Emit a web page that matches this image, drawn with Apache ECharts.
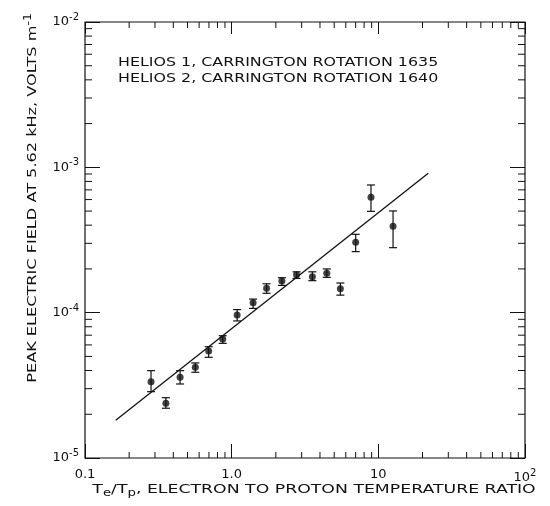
<!DOCTYPE html>
<html>
<head>
    <meta charset="UTF-8">
    <title>Peak electric field vs Te/Tp</title>
    <script src="https://cdn.jsdelivr.net/npm/echarts@6/dist/echarts.min.js"></script>
    <style>
        html, body { margin: 0; padding: 0; background: #fff; }
        #main { width: 550px; height: 506px; }
    </style>
</head>
<body>
    <div id="main"></div>
    <script>
        // Te/Tp ratio for each measurement
        var ratio = [0.282, 0.356, 0.445, 0.565, 0.697, 0.869, 1.09, 1.40, 1.73, 2.20, 2.77, 3.55, 4.45, 5.51, 7.01, 8.91, 12.6];
        // peak electric field (V/m) and error bar ends
        var field = [3.35e-5, 2.38e-5, 3.59e-5, 4.21e-5, 5.45e-5, 6.59e-5, 9.63e-5, 1.17e-4, 1.47e-4, 1.65e-4, 1.82e-4, 1.77e-4, 1.87e-4, 1.46e-4, 3.05e-4, 6.22e-4, 3.93e-4];
        var errLow = [2.86e-5, 2.20e-5, 3.23e-5, 3.89e-5, 4.93e-5, 6.15e-5, 8.77e-5, 1.07e-4, 1.36e-4, 1.54e-4, 1.72e-4, 1.66e-4, 1.75e-4, 1.32e-4, 2.63e-4, 4.98e-4, 2.80e-4];
        var errHigh = [3.99e-5, 2.60e-5, 3.99e-5, 4.51e-5, 5.83e-5, 6.94e-5, 1.05e-4, 1.24e-4, 1.58e-4, 1.74e-4, 1.91e-4, 1.91e-4, 2.00e-4, 1.60e-4, 3.46e-4, 7.56e-4, 5.01e-4];
        // fitted line end points
        var fitX = [0.162, 21.9];
        var fitY = [1.82e-5, 9.10e-4];

        // minor tick values
        var xMinor = [0.2, 0.3, 0.4, 0.5, 0.6, 0.7, 0.8, 0.9, 2, 3, 4, 5, 6, 7, 8, 9, 20, 30, 40, 50, 60, 70, 80, 90];
        var yMinor = [2e-5, 3e-5, 4e-5, 5e-5, 6e-5, 7e-5, 8e-5, 9e-5, 2e-4, 3e-4, 4e-4, 5e-4, 6e-4, 7e-4, 8e-4, 9e-4, 2e-3, 3e-3, 4e-3, 5e-3, 6e-3, 7e-3, 8e-3, 9e-3];
        var xLabels = { '0.1': '0.1', '1': '1.0', '10': '10', '100': '{b|10}{s|2}' };
        var yLabels = { '0.00001': '-5', '0.0001': '-4', '0.001': '-3', '0.01': '-2' };

        var font = 'DejaVu Sans';
        var ink = '#111';

        var myChart = echarts.init(document.getElementById('main'));

        var errData = [];
        for (var i = 0; i < ratio.length; i++) {
            errData.push([ratio[i], errLow[i], errHigh[i]]);
        }
        var points = [];
        for (var i = 0; i < ratio.length; i++) {
            points.push([ratio[i], field[i]]);
        }

        var richLabel = {
            b: { fontSize: 13, fontFamily: font, color: ink },
            s: { fontSize: 10, fontFamily: font, color: ink, padding: [0, 0, 9, 0] }
        };

        function minorX(params, api) {
            var v = api.value(0);
            var b = api.coord([v, 1e-5]);
            var t = api.coord([v, 1e-2]);
            var st = { stroke: ink, lineWidth: 1 };
            return {
                type: 'group',
                children: [
                    { type: 'line', shape: { x1: b[0], y1: b[1], x2: b[0], y2: b[1] - 6 }, style: st },
                    { type: 'line', shape: { x1: t[0], y1: t[1], x2: t[0], y2: t[1] + 6 }, style: st }
                ]
            };
        }

        function minorY(params, api) {
            var v = api.value(1);
            var l = api.coord([0.1, v]);
            var r = api.coord([100, v]);
            var st = { stroke: ink, lineWidth: 1 };
            return {
                type: 'group',
                children: [
                    { type: 'line', shape: { x1: l[0], y1: l[1], x2: l[0] + 7, y2: l[1] }, style: st },
                    { type: 'line', shape: { x1: r[0], y1: r[1], x2: r[0] - 7, y2: r[1] }, style: st }
                ]
            };
        }

        function errorBar(params, api) {
            var x = api.value(0);
            var lo = api.coord([x, api.value(1)]);
            var hi = api.coord([x, api.value(2)]);
            var w = 4;
            var st = { stroke: ink, lineWidth: 1.2 };
            return {
                type: 'group',
                children: [
                    { type: 'line', shape: { x1: lo[0], y1: lo[1], x2: hi[0], y2: hi[1] }, style: st },
                    { type: 'line', shape: { x1: lo[0] - w, y1: lo[1], x2: lo[0] + w, y2: lo[1] }, style: st },
                    { type: 'line', shape: { x1: hi[0] - w, y1: hi[1], x2: hi[0] + w, y2: hi[1] }, style: st }
                ]
            };
        }

        var option = {
            backgroundColor: '#fff',
            animation: false,
            grid: { left: 85, right: 25, top: 22, bottom: 48, show: true, borderColor: ink, borderWidth: 1.2 },
            xAxis: [{
                type: 'log', logBase: 10, min: 0.1, max: 100,
                axisLine: { show: false },
                axisTick: { inside: true, length: 14, lineStyle: { color: ink } },
                splitLine: { show: false },
                axisLabel: {
                    margin: 10, color: ink, fontFamily: font, fontSize: 13,
                    formatter: function (v) { return xLabels[String(v)] || ''; },
                    rich: richLabel
                }
            }, {
                type: 'log', logBase: 10, min: 0.1, max: 100, position: 'top',
                axisLine: { show: false },
                axisTick: { inside: true, length: 12, lineStyle: { color: ink } },
                splitLine: { show: false },
                axisLabel: { show: false }
            }],
            yAxis: [{
                type: 'log', logBase: 10, min: 1e-5, max: 1e-2,
                axisLine: { show: false },
                axisTick: { inside: true, length: 15, lineStyle: { color: ink } },
                splitLine: { show: false },
                axisLabel: {
                    margin: 6, color: ink, fontFamily: font, fontSize: 13,
                    formatter: function (v) {
                        var e = yLabels[String(v)];
                        return e ? '{b|10}{s|' + e + '}' : '';
                    },
                    rich: richLabel
                }
            }, {
                type: 'log', logBase: 10, min: 1e-5, max: 1e-2, position: 'right',
                axisLine: { show: false },
                axisTick: { inside: true, length: 15, lineStyle: { color: ink } },
                splitLine: { show: false },
                axisLabel: { show: false }
            }],
            graphic: [{
                type: 'text', x: 118, y: 63, scaleX: 1.22,
                style: { text: 'HELIOS 1, CARRINGTON ROTATION 1635', font: '13px "DejaVu Sans"', fill: ink, verticalAlign: 'middle' }
            }, {
                type: 'text', x: 118, y: 79, scaleX: 1.22,
                style: { text: 'HELIOS 2, CARRINGTON ROTATION 1640', font: '13px "DejaVu Sans"', fill: ink, verticalAlign: 'middle' }
            }, {
                type: 'text', x: 33, y: 198, rotation: Math.PI / 2, scaleX: 1.24,
                style: {
                    text: '{t|PEAK ELECTRIC FIELD AT 5.62 kHz, VOLTS m}{s|-1}',
                    align: 'center', verticalAlign: 'middle',
                    rich: {
                        t: { fontSize: 13, fontFamily: font, fill: ink },
                        s: { fontSize: 10, fontFamily: font, fill: ink, padding: [0, 0, 9, 0] }
                    }
                }
            }, {
                type: 'text', x: 314, y: 490, scaleX: 1.33,
                style: {
                    text: '{t|T}{d|e}{t|/T}{d|p}{t|, ELECTRON TO PROTON TEMPERATURE RATIO}',
                    align: 'center', verticalAlign: 'middle',
                    rich: {
                        t: { fontSize: 13, fontFamily: font, fill: ink },
                        d: { fontSize: 10, fontFamily: font, fill: ink, padding: [6, 0, 0, 0] }
                    }
                }
            }],
            series: [{
                type: 'custom', renderItem: minorX, silent: true,
                data: xMinor.map(function (v) { return [v, 1e-4]; })
            }, {
                type: 'custom', renderItem: minorY, silent: true,
                data: yMinor.map(function (v) { return [1, v]; })
            }, {
                type: 'line', data: [[fitX[0], fitY[0]], [fitX[1], fitY[1]]],
                symbol: 'none', lineStyle: { color: ink, width: 1.3 }, silent: true
            }, {
                type: 'custom', renderItem: errorBar, silent: true,
                encode: { x: 0, y: [1, 2] },
                data: errData
            }, {
                type: 'scatter', data: points, symbol: 'circle', symbolSize: 7,
                itemStyle: { color: ink }, silent: true
            }]
        };

        myChart.setOption(option);
    </script>
</body>
</html>
